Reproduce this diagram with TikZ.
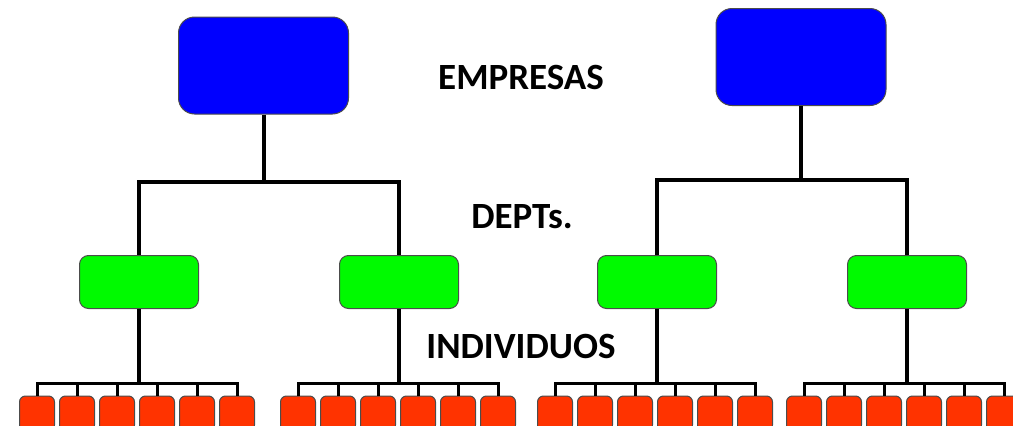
\documentclass[tikz,border=0pt]{standalone}
\usepackage{fontspec}
\setmainfont{Carlito}
\begin{document}
\begin{tikzpicture}[x=1pt,y=-1pt,
  box/.style={draw=black!70,line width=1pt,rounded corners=#1,inner sep=0pt},
  blue box/.style={box=16pt,fill={rgb,255:red,0;green,0;blue,255},minimum width=170pt,minimum height=97pt},
  green box/.style={box=9pt,fill={rgb,255:red,0;green,250;blue,0},minimum width=119pt,minimum height=53pt},
  red box/.style={box=6pt,fill={rgb,255:red,255;green,51;blue,0},minimum width=35pt,minimum height=35pt},
  trunk/.style={line width=4pt},
  twig/.style={line width=3pt},
  lab/.style={font=\bfseries\fontsize{37}{42}\selectfont,inner sep=0pt}]
\useasboundingbox (0,0) rectangle (1013,426);
\clip (0,0) rectangle (1013,426);
% top level
\node[blue box] (b1) at (263.5,65.5) {};
\node[blue box] (b2) at (801,57) {};
% departments
\node[green box] (g1) at (139,282) {};
\node[green box] (g2) at (399,282) {};
\node[green box] (g3) at (657,282) {};
\node[green box] (g4) at (907,282) {};
\coordinate (k1) at (263.5,182);
\coordinate (k2) at (801,180);
\draw[trunk] (b1.south) -- (k1);
\draw[trunk] (k1) -| (g1.north);
\draw[trunk] (k1) -| (g2.north);
\draw[trunk] (b2.south) -- (k2);
\draw[trunk] (k2) -| (g3.north);
\draw[trunk] (k2) -| (g4.north);
% individuals
\foreach \g/\c in {1/137,2/398,3/655,4/904}{
  \coordinate (m\g) at (\c,383);
  \foreach \i in {0,...,5}{
    \node[red box] (r\g\i) at ({\c-100+40*\i},413.5) {};
    \draw[twig] (m\g) -| (r\g\i.north);
  }
  \draw[trunk] (g\g.south) -- (g\g.south |- m\g);
}
% labels
\node[lab] (le) at (521,77) {EMPRESAS};
\node[lab] (ld) at (522,217) {DEPTs.};
\node[lab] (li) at (521,346) {INDIVIDUOS};
\end{tikzpicture}
\end{document}
